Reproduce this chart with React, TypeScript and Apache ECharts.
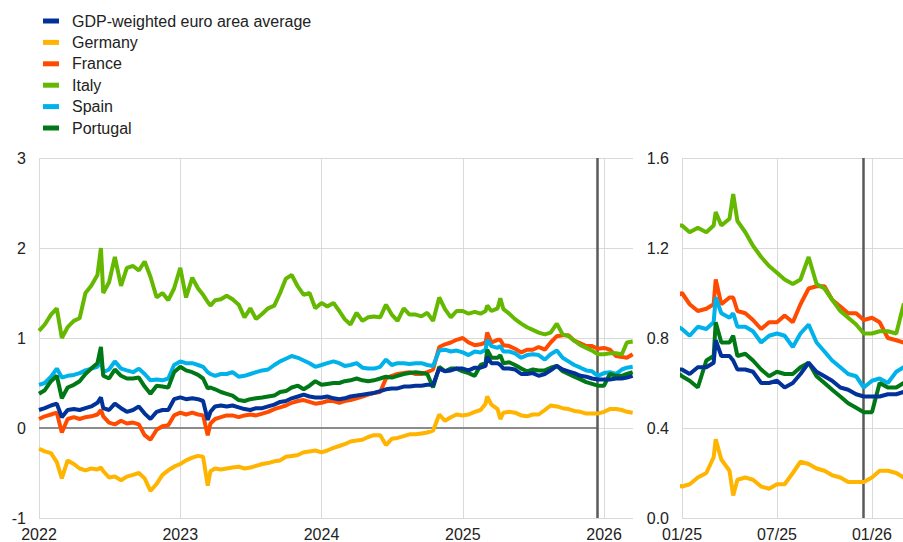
import React, { useEffect, useRef } from "react";
import * as echarts from "echarts";

const dates = [
  "2022-01-01", "2022-01-16", "2022-02-01", "2022-02-16", "2022-03-01", "2022-03-16", "2022-04-01", "2022-04-16",
  "2022-05-01", "2022-05-16", "2022-06-01", "2022-06-10", "2022-06-16", "2022-07-01", "2022-07-16", "2022-08-01",
  "2022-08-16", "2022-09-01", "2022-09-16", "2022-10-01", "2022-10-16", "2022-11-01", "2022-11-16", "2022-12-01",
  "2022-12-16",
  "2023-01-01", "2023-01-16", "2023-02-01", "2023-02-16", "2023-03-01", "2023-03-13", "2023-03-20", "2023-04-01",
  "2023-04-16", "2023-05-01", "2023-05-16", "2023-06-01", "2023-06-16", "2023-07-01", "2023-07-16", "2023-08-01",
  "2023-08-16", "2023-09-01", "2023-09-16", "2023-10-01", "2023-10-16", "2023-11-01", "2023-11-16", "2023-12-01",
  "2023-12-16",
  "2024-01-01", "2024-01-16", "2024-02-01", "2024-02-16", "2024-03-01", "2024-03-16", "2024-04-01", "2024-04-16",
  "2024-05-01", "2024-05-16", "2024-06-01", "2024-06-16", "2024-07-01", "2024-07-16", "2024-08-01", "2024-08-16",
  "2024-09-01", "2024-09-16", "2024-10-01", "2024-10-16", "2024-11-01", "2024-11-16", "2024-12-01", "2024-12-16",
  "2025-01-01", "2025-01-16", "2025-02-01", "2025-02-16", "2025-03-01", "2025-03-05", "2025-03-16", "2025-04-01",
  "2025-04-08", "2025-04-16", "2025-05-01", "2025-05-16", "2025-06-01", "2025-06-16", "2025-07-01", "2025-07-16",
  "2025-08-01", "2025-08-16", "2025-09-01", "2025-09-16", "2025-10-01", "2025-10-16", "2025-11-01", "2025-11-16",
  "2025-12-01", "2025-12-16",
  "2026-01-01", "2026-01-16", "2026-02-01", "2026-02-16", "2026-03-01", "2026-03-16",
];

const gdpWeighted = [
  0.20, 0.22, 0.25, 0.27, 0.12, 0.20, 0.21, 0.20, 0.22, 0.24, 0.28, 0.34, 0.22, 0.20, 0.27, 0.22, 0.18, 0.20, 0.24, 0.16, 0.10, 0.18, 0.20, 0.20, 0.32,
  0.34, 0.32, 0.33, 0.32, 0.30, 0.09, 0.18, 0.24, 0.25, 0.24, 0.25, 0.23, 0.21, 0.20, 0.22, 0.22, 0.24, 0.26, 0.29, 0.30, 0.33, 0.35, 0.37, 0.35, 0.34,
  0.34, 0.35, 0.33, 0.32, 0.33, 0.35, 0.36, 0.37, 0.38, 0.39, 0.41, 0.43, 0.44, 0.44, 0.46, 0.46, 0.47, 0.47, 0.48, 0.48, 0.66, 0.63, 0.64, 0.66,
  0.66, 0.64, 0.67, 0.67, 0.69, 0.79, 0.72, 0.72, 0.70, 0.66, 0.66, 0.65, 0.60, 0.60, 0.61, 0.58, 0.60, 0.64, 0.69, 0.65, 0.63, 0.61, 0.58, 0.57, 0.55, 0.54,
  0.54, 0.54, 0.55, 0.55, 0.56, 0.58,
];

const germany = [
  -0.23, -0.26, -0.28, -0.38, -0.56, -0.36, -0.40, -0.45, -0.47, -0.45, -0.46, -0.44, -0.48, -0.55, -0.54, -0.58, -0.54, -0.52, -0.50, -0.56, -0.70, -0.62, -0.52, -0.47, -0.43,
  -0.40, -0.36, -0.33, -0.31, -0.32, -0.64, -0.48, -0.45, -0.46, -0.45, -0.44, -0.43, -0.45, -0.44, -0.42, -0.40, -0.39, -0.37, -0.36, -0.32, -0.31, -0.30, -0.27, -0.26, -0.25,
  -0.27, -0.25, -0.22, -0.20, -0.18, -0.15, -0.14, -0.13, -0.10, -0.08, -0.08, -0.19, -0.12, -0.11, -0.09, -0.07, -0.07, -0.06, -0.05, -0.03, 0.15, 0.08, 0.12, 0.15,
  0.14, 0.15, 0.18, 0.20, 0.27, 0.35, 0.26, 0.21, 0.10, 0.17, 0.18, 0.17, 0.14, 0.13, 0.15, 0.15, 0.20, 0.25, 0.24, 0.22, 0.21, 0.19, 0.18, 0.16, 0.16, 0.16,
  0.18, 0.21, 0.21, 0.20, 0.18, 0.17,
];

const france = [
  0.10, 0.13, 0.15, 0.17, -0.05, 0.10, 0.12, 0.10, 0.12, 0.13, 0.15, 0.20, 0.13, 0.06, 0.04, 0.08, 0.05, 0.06, 0.04, -0.08, -0.13, -0.02, 0.02, 0.03, 0.14,
  0.17, 0.15, 0.17, 0.15, 0.14, -0.08, 0.05, 0.10, 0.12, 0.14, 0.14, 0.12, 0.14, 0.15, 0.14, 0.16, 0.18, 0.21, 0.23, 0.25, 0.28, 0.30, 0.31, 0.29, 0.27,
  0.28, 0.30, 0.30, 0.28, 0.30, 0.31, 0.33, 0.35, 0.37, 0.39, 0.40, 0.55, 0.58, 0.60, 0.61, 0.62, 0.60, 0.60, 0.62, 0.65, 0.90, 0.93, 0.95, 0.98,
  1.00, 0.95, 0.92, 0.93, 0.95, 1.06, 0.95, 0.98, 0.98, 0.92, 0.91, 0.88, 0.84, 0.87, 0.87, 0.90, 0.87, 0.95, 1.02, 1.03, 1.03, 0.97, 0.94, 0.91, 0.91, 0.88,
  0.89, 0.87, 0.80, 0.79, 0.78, 0.82,
];

const italy = [
  1.08, 1.15, 1.26, 1.33, 1.00, 1.12, 1.19, 1.22, 1.50, 1.58, 1.70, 2.00, 1.50, 1.62, 1.90, 1.58, 1.78, 1.80, 1.75, 1.85, 1.68, 1.45, 1.50, 1.42, 1.55,
  1.78, 1.45, 1.67, 1.55, 1.48, 1.40, 1.36, 1.42, 1.43, 1.47, 1.43, 1.37, 1.23, 1.33, 1.21, 1.27, 1.33, 1.36, 1.50, 1.66, 1.70, 1.57, 1.48, 1.50, 1.33,
  1.39, 1.35, 1.39, 1.30, 1.21, 1.15, 1.28, 1.19, 1.23, 1.24, 1.23, 1.37, 1.26, 1.19, 1.33, 1.26, 1.26, 1.24, 1.28, 1.19, 1.45, 1.32, 1.23, 1.30,
  1.30, 1.27, 1.29, 1.27, 1.30, 1.36, 1.30, 1.33, 1.44, 1.32, 1.27, 1.21, 1.16, 1.12, 1.09, 1.06, 1.04, 1.06, 1.16, 1.04, 1.02, 0.97, 0.92, 0.89, 0.86, 0.82,
  0.82, 0.83, 0.83, 0.82, 0.95, 0.96,
];

const spain = [
  0.48, 0.50, 0.57, 0.66, 0.56, 0.58, 0.59, 0.61, 0.64, 0.66, 0.68, 0.75, 0.62, 0.65, 0.74, 0.66, 0.64, 0.62, 0.66, 0.60, 0.53, 0.54, 0.53, 0.55, 0.70,
  0.74, 0.72, 0.72, 0.70, 0.68, 0.62, 0.60, 0.58, 0.60, 0.60, 0.62, 0.57, 0.58, 0.60, 0.62, 0.64, 0.65, 0.70, 0.74, 0.77, 0.80, 0.78, 0.75, 0.72, 0.68,
  0.70, 0.72, 0.74, 0.72, 0.69, 0.70, 0.72, 0.67, 0.66, 0.66, 0.68, 0.76, 0.70, 0.72, 0.72, 0.71, 0.72, 0.72, 0.70, 0.69, 0.86, 0.87, 0.85, 0.86,
  0.84, 0.81, 0.85, 0.84, 0.87, 0.98, 0.91, 0.89, 0.91, 0.85, 0.85, 0.83, 0.78, 0.81, 0.82, 0.81, 0.76, 0.82, 0.86, 0.78, 0.74, 0.70, 0.67, 0.64, 0.63, 0.58,
  0.61, 0.62, 0.60, 0.65, 0.67, 0.68,
];

const portugal = [
  0.38, 0.42, 0.52, 0.58, 0.33, 0.45, 0.48, 0.52, 0.60, 0.66, 0.72, 0.90, 0.58, 0.55, 0.65, 0.58, 0.55, 0.55, 0.56, 0.46, 0.38, 0.47, 0.46, 0.45, 0.62,
  0.68, 0.64, 0.62, 0.59, 0.55, 0.44, 0.45, 0.43, 0.40, 0.38, 0.36, 0.31, 0.30, 0.32, 0.33, 0.34, 0.35, 0.36, 0.40, 0.41, 0.45, 0.47, 0.43, 0.47, 0.52,
  0.48, 0.49, 0.50, 0.50, 0.52, 0.53, 0.55, 0.53, 0.52, 0.53, 0.55, 0.57, 0.56, 0.58, 0.60, 0.61, 0.62, 0.61, 0.60, 0.45, 0.68, 0.63, 0.66, 0.66,
  0.63, 0.61, 0.58, 0.70, 0.72, 0.87, 0.78, 0.78, 0.81, 0.72, 0.73, 0.70, 0.66, 0.63, 0.65, 0.64, 0.64, 0.67, 0.69, 0.63, 0.60, 0.57, 0.54, 0.51, 0.49, 0.47,
  0.47, 0.60, 0.58, 0.58, 0.60, 0.62,
];

const seriesNames = ["GDP-weighted euro area average", "Germany", "France", "Italy", "Spain", "Portugal"];
const seriesColors = ["#003299", "#FFB400", "#FF4B00", "#65B800", "#00B1EA", "#007816"];
const seriesValues = [gdpWeighted, germany, france, italy, spain, portugal];

const leftYTicks = [-1, 0, 1, 2, 3];
const rightXTickLabels: Record<number, string> = { 0: "01/25", 6: "07/25", 12: "01/26" };
const cutOffDate = "2025-12-15";

function parts(d: string) {
  return d.split("-").map(Number);
}
function toYear(d: string) {
  const [y, m, dd] = parts(d);
  const s = Date.UTC(y, 0, 1);
  const e = Date.UTC(y + 1, 0, 1);
  return y + (Date.UTC(y, m - 1, dd) - s) / (e - s);
}
function toMonths(d: string) {
  const [y, m, dd] = parts(d);
  const dim = new Date(Date.UTC(y, m, 0)).getUTCDate();
  return (y - 2025) * 12 + (m - 1) + (dd - 1) / dim;
}

const FONT = "'Liberation Sans', Arial, sans-serif";
const GRID_COLOR = "#d9d9d9";

export default function App() {
  const ref = useRef<HTMLDivElement>(null);
  useEffect(() => {
    if (!ref.current) return;
    const chart = echarts.init(ref.current, undefined, { renderer: "svg" });
    const cutYear = toYear(cutOffDate);
    const cutMonth = toMonths(cutOffDate);
    const lastYear = toYear(dates[dates.length - 1]);

    const drawOrder = [1, 2, 3, 4, 5, 0];
    const series: any[] = [];
    series.push({
      type: "line",
      name: "_markLeft",
      xAxisIndex: 0,
      yAxisIndex: 0,
      data: [],
      silent: true,
      z: 1,
      markLine: {
        z: 1,
        symbol: "none",
        silent: true,
        animation: false,
        label: { show: false },
        data: [
          [
            { coord: [2022, 0], lineStyle: { color: "#8c8c8c", width: 2, type: "solid" } },
            { coord: [cutYear, 0] },
          ],
          { xAxis: cutYear, lineStyle: { color: "#5a5a5a", width: 2.5, type: "solid" } },
        ],
      },
    });
    series.push({
      type: "line",
      name: "_markRight",
      xAxisIndex: 1,
      yAxisIndex: 1,
      data: [],
      silent: true,
      z: 1,
      markLine: {
        z: 1,
        symbol: "none",
        silent: true,
        animation: false,
        label: { show: false },
        data: [{ xAxis: cutMonth, lineStyle: { color: "#5a5a5a", width: 2.5, type: "solid" } }],
      },
    });
    drawOrder.forEach((i) => {
      const vals = seriesValues[i];
      series.push({
        type: "line",
        name: seriesNames[i],
        xAxisIndex: 0,
        yAxisIndex: 0,
        showSymbol: false,
        symbol: "none",
        z: 2,
        lineStyle: { color: seriesColors[i], width: 4 },
        itemStyle: { color: seriesColors[i] },
        data: dates.map((d, k) => [toYear(d), vals[k]]),
      });
      series.push({
        type: "line",
        name: seriesNames[i],
        xAxisIndex: 1,
        yAxisIndex: 1,
        showSymbol: false,
        symbol: "none",
        z: 2,
        lineStyle: { color: seriesColors[i], width: 4 },
        itemStyle: { color: seriesColors[i] },
        data: dates
          .map((d, k) => [toMonths(d), vals[k]])
          .filter((p) => p[0] >= -0.6),
      });
    });

    const labelStyle = { color: "#222", fontSize: 16, fontFamily: FONT };

    chart.setOption({
      animation: false,
      backgroundColor: "#ffffff",
      legend: {
        orient: "vertical",
        left: 43,
        top: 12,
        padding: 0,
        itemWidth: 16,
        itemHeight: 5,
        itemGap: 3.4,
        icon: "rect",
        selectedMode: false,
        data: seriesNames,
        textStyle: { color: "#222", fontSize: 16, fontFamily: FONT, lineHeight: 18, padding: [0, 0, 0, 8] },
      },
      grid: [
        { left: 39, right: 270, top: 158, bottom: 23 },
        { left: 682, right: 0, top: 158, bottom: 23 },
      ],
      xAxis: [
        {
          type: "value",
          gridIndex: 0,
          min: 2022,
          max: Math.max(2026.205, lastYear),
          interval: 1,
          axisLine: { show: false },
          axisTick: { show: false },
          splitLine: { show: true, showMaxLine: false, lineStyle: { color: GRID_COLOR, width: 1 } },
          axisLabel: {
            ...labelStyle,
            margin: 8,
            showMaxLabel: false,
            formatter: (v: number) => (Math.abs(v - Math.round(v)) < 1e-6 ? String(Math.round(v)) : ""),
          },
        },
        {
          type: "value",
          gridIndex: 1,
          min: 0,
          max: 13.96,
          interval: 6,
          axisLine: { show: false },
          axisTick: { show: false },
          splitLine: { show: true, showMaxLine: false, lineStyle: { color: GRID_COLOR, width: 1 } },
          axisLabel: {
            ...labelStyle,
            margin: 8,
            showMaxLabel: false,
            formatter: (v: number) => {
              const r = Math.round(v);
              return Math.abs(v - r) < 1e-6 && rightXTickLabels[r] ? rightXTickLabels[r] : "";
            },
          },
        },
      ],
      yAxis: [
        {
          type: "value",
          gridIndex: 0,
          min: leftYTicks[0],
          max: leftYTicks[leftYTicks.length - 1],
          interval: 1,
          axisLine: { show: false },
          axisTick: { show: false },
          splitLine: { show: true, lineStyle: { color: GRID_COLOR, width: 1 } },
          axisLabel: { ...labelStyle, margin: 13 },
        },
        {
          type: "value",
          gridIndex: 1,
          min: 0,
          max: 1.6,
          interval: 0.4,
          axisLine: { show: false },
          axisTick: { show: false },
          splitLine: { show: true, lineStyle: { color: GRID_COLOR, width: 1 } },
          axisLabel: { ...labelStyle, margin: 13, formatter: (v: number) => v.toFixed(1) },
        },
      ],
      series,
    });
    return () => chart.dispose();
  }, []);

  return (
    <div
      ref={ref}
      style={{ position: "absolute", left: 0, top: 0, width: 903, height: 542, background: "#fff" }}
    />
  );
}
